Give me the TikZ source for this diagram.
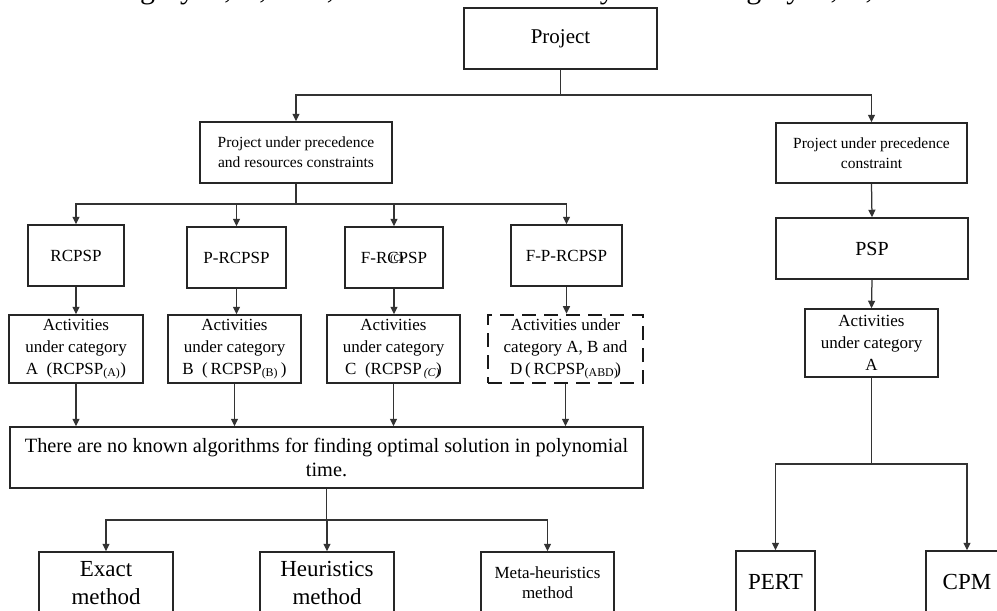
\documentclass[tikz,border=0pt]{standalone}
\usepackage{fontspec}
\setmainfont{Liberation Serif}
\usetikzlibrary{arrows.meta}
\begin{document}
\begin{tikzpicture}[x=1pt,y=-1pt,
  box/.style={draw=black!85, line width=1.5pt, inner sep=0pt, align=center},
  dbox/.style={draw=black!90, line width=2.6pt, dash pattern=on 14pt off 8pt, inner sep=0pt, align=center},
  arr/.style={draw=black!80, line width=1.25pt, -{Triangle[length=7.5pt,width=7pt]}},
  ln/.style={draw=black!80, line width=1.25pt},
  fsmall/.style={font=\fontsize{15.5}{20}\selectfont},
  fmid/.style={font=\fontsize{17}{22}\selectfont},
  fbig/.style={font=\fontsize{23}{28}\selectfont}]
\useasboundingbox (0,0) rectangle (997,611);
\clip (0,0) rectangle (997,611);
% clipped line of text at the top
\node[anchor=base west, inner sep=0pt] (toptext) at (16,-2) {\resizebox{944pt}{!}{under category A, B, or C, but not simultaneously under category A, B, and D.}};
% level 1
\node[box, minimum width=193pt, minimum height=61pt, font=\fontsize{21}{24}\selectfont] (proj) at (560.5,38.5) {Project};
% level 2
\node[box, fsmall, minimum width=192pt, minimum height=61pt] (ppr) at (296,152.5) {Project under precedence\\and resources constraints};
\node[box, fsmall, minimum width=191pt, minimum height=60pt] (ppc) at (871.5,153) {Project under precedence\\constraint};
% level 3
\node[box, fmid, minimum width=96pt, minimum height=61pt] (rc) at (76,255.5) {RCPSP};
\node[box, fmid, minimum width=99pt, minimum height=61pt] (prc) at (236.5,257.5) {P-RCPSP};
\node[box, fmid, minimum width=98pt, minimum height=61pt] (frc) at (394,257.5) {F-R\rlap{\raisebox{2pt}{\fontsize{10}{10}\selectfont\kern3pt(C)}}CPSP};
\node[box, fmid, minimum width=111pt, minimum height=61pt] (fprc) at (566.5,255.5) {F-P-RCPSP};
\node[box, font=\fontsize{20}{24}\selectfont, minimum width=192pt, minimum height=61pt] (psp) at (872,248.5) {PSP};
% level 4
\node[box, fmid, minimum width=134pt, minimum height=68pt] (actA) at (76,349) {Activities\\under category\\A~~(RCPSP\textsubscript{(A)})};
\node[box, fmid, minimum width=133pt, minimum height=68pt] (actB) at (234.5,349) {Activities\\under category\\B~~(\,RCPSP\textsubscript{(B)}\,)};
\node[box, fmid, minimum width=133pt, minimum height=68pt] (actC) at (393.5,349) {Activities\\under category\\C~~(RCPSP\textsubscript{\,\textit{(C)}}\kern-4pt)};
\node[dbox, fmid, minimum width=155pt, minimum height=68pt] (actD) at (565.5,349) {Activities under\\category A, B and\\D\,(\,RCPSP\textsubscript{(ABD)}\kern-3pt)};
\node[box, fmid, minimum width=133pt, minimum height=68pt] (actR) at (871.5,343) {Activities\\under category\\A};
% level 5
\node[box, font=\fontsize{20.3}{24}\selectfont, minimum width=633pt, minimum height=61pt] (big) at (326.5,457.5) {There are no known algorithms for finding optimal solution in polynomial\\time.};
% level 6
\node[box, fbig, minimum width=134pt, minimum height=62pt] (exact) at (106,583) {Exact\\method};
\node[box, fbig, minimum width=134pt, minimum height=62pt] (heur) at (327,583) {Heuristics\\method};
\node[box, font=\fontsize{17}{20}\selectfont, minimum width=133pt, minimum height=62pt] (meta) at (547.5,583) {Meta-heuristics\\method};
\node[box, fbig, minimum width=79pt, minimum height=62pt] (pert) at (775.5,582) {PERT};
\node[box, fbig, minimum width=82pt, minimum height=62pt] (cpm) at (967,582) {CPM};
% junctions
\coordinate (j1) at (560.5,95);
\coordinate (j2) at (296,204);
\coordinate (j3) at (326.5,520);
\coordinate (j4) at (871.5,464);
% connectors
\draw[ln] (proj.south) -- (j1);
\draw[arr] (j1) -| (ppr.north);
\draw[arr] (j1) -| (ppc.north);
\draw[ln] (ppr.south) -- (j2);
\draw[arr] (j2) -| (rc.north);
\draw[arr] (j2) -| (prc.north);
\draw[arr] (j2) -| (frc.north);
\draw[arr] (j2) -| (fprc.north);
\draw[arr] (rc.south) -- (rc.south |- actA.north);
\draw[arr] (prc.south) -- (prc.south |- actB.north);
\draw[arr] (frc.south) -- (frc.south |- actC.north);
\draw[arr] (fprc.south) -- (fprc.south |- actD.north);
\draw[arr] (actA.south) -- (actA.south |- big.north);
\draw[arr] (actB.south) -- (actB.south |- big.north);
\draw[arr] (actC.south) -- (actC.south |- big.north);
\draw[arr] (actD.south) -- (actD.south |- big.north);
\draw[ln] (big.south) -- (j3);
\draw[arr] (j3) -| (exact.north);
\draw[arr] (j3) -| (heur.north);
\draw[arr] (j3) -| (meta.north);
\draw[arr] (ppc.south) -- (psp.north);
\draw[arr] (psp.south) -- (actR.north);
\draw[ln] (actR.south) -- (j4);
\draw[arr] (j4) -| (pert.north);
\draw[arr] (j4) -| (cpm.north);
\end{tikzpicture}
\end{document}
